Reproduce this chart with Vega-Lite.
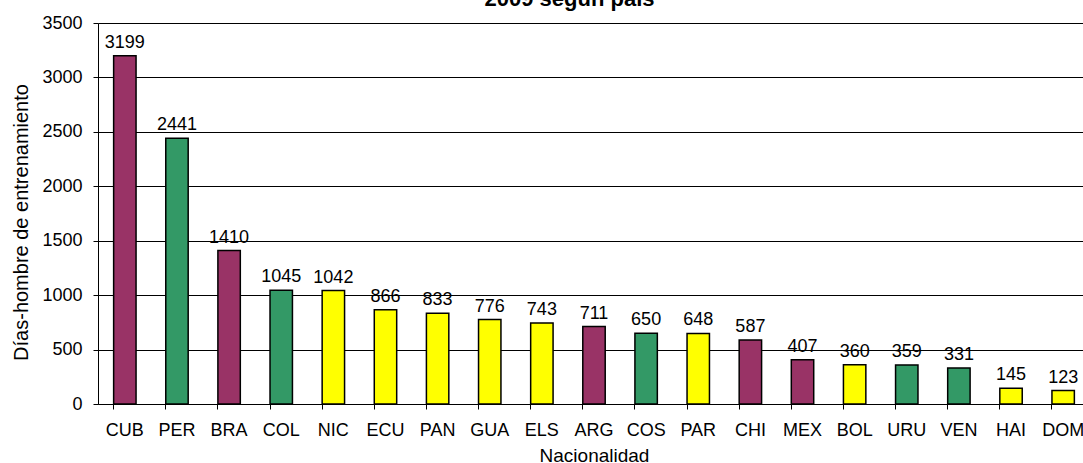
{
  "$schema": "https://vega.github.io/schema/vega-lite/v6.json",
  "autosize": {"type": "none"},
  "padding": {"left": 98, "top": 23, "right": 0, "bottom": 59},
  "width": 985,
  "height": 381,
  "background": "white",
  "config": {"view": {"stroke": null}, "font": "Liberation Sans"},
  "title": {"text": "2009 según país", "fontSize": 22, "fontWeight": "bold", "font": "Liberation Sans", "color": "black", "anchor": "middle", "baseline": "alphabetic", "offset": 4, "dx": -21, "dy": 18},
  "data": {"values": [
    {"pais": "CUB", "dias": 3199, "grupo": "A"},
    {"pais": "PER", "dias": 2441, "grupo": "B"},
    {"pais": "BRA", "dias": 1410, "grupo": "A"},
    {"pais": "COL", "dias": 1045, "grupo": "B"},
    {"pais": "NIC", "dias": 1042, "grupo": "C"},
    {"pais": "ECU", "dias": 866, "grupo": "C"},
    {"pais": "PAN", "dias": 833, "grupo": "C"},
    {"pais": "GUA", "dias": 776, "grupo": "C"},
    {"pais": "ELS", "dias": 743, "grupo": "C"},
    {"pais": "ARG", "dias": 711, "grupo": "A"},
    {"pais": "COS", "dias": 650, "grupo": "B"},
    {"pais": "PAR", "dias": 648, "grupo": "C"},
    {"pais": "CHI", "dias": 587, "grupo": "A"},
    {"pais": "MEX", "dias": 407, "grupo": "A"},
    {"pais": "BOL", "dias": 360, "grupo": "C"},
    {"pais": "URU", "dias": 359, "grupo": "B"},
    {"pais": "VEN", "dias": 331, "grupo": "B"},
    {"pais": "HAI", "dias": 145, "grupo": "C"},
    {"pais": "DOM", "dias": 123, "grupo": "C"}
  ]},
  "encoding": {
    "x": {"field": "pais", "type": "nominal", "sort": null,
      "scale": {"range": [0, 992], "paddingInner": 0.57, "paddingOuter": 0.3},
      "axis": {"title": "Nacionalidad", "labelAngle": 0, "labelFontSize": 18, "labelColor": "black", "labelPadding": 12,
        "tickSize": 5, "tickColor": "black", "domainColor": "black", "bandPosition": 0, "titleFontSize": 19, "titleFontWeight": "normal", "titleColor": "black", "titlePadding": 7, "titleX": 496}},
    "y": {"field": "dias", "type": "quantitative",
      "scale": {"domain": [0, 3500], "nice": false},
      "axis": {"title": "Días-hombre de entrenamiento", "values": [0, 500, 1000, 1500, 2000, 2500, 3000, 3500], "format": "d",
        "labelFontSize": 18, "labelColor": "black", "labelPadding": 11, "tickSize": 5, "tickColor": "black", "domainColor": "black",
        "grid": true, "gridColor": "black", "gridOpacity": 1, "titleFontSize": 20, "titleFontWeight": "normal", "titleColor": "black",
        "titleX": -77, "titleY": 199, "titleAlign": "center", "titleBaseline": "middle", "titleAngle": -90}}
  },
  "layer": [
    {"mark": {"type": "bar", "stroke": "black", "strokeWidth": 1.5},
     "encoding": {"color": {"field": "grupo", "type": "nominal", "legend": null,
       "scale": {"domain": ["A", "B", "C"], "range": ["#993366", "#339966", "#FFFF00"]}}}},
    {"mark": {"type": "text", "baseline": "alphabetic", "dy": -8, "fontSize": 18, "color": "black"},
     "encoding": {"text": {"field": "dias", "type": "quantitative"}}}
  ]
}
